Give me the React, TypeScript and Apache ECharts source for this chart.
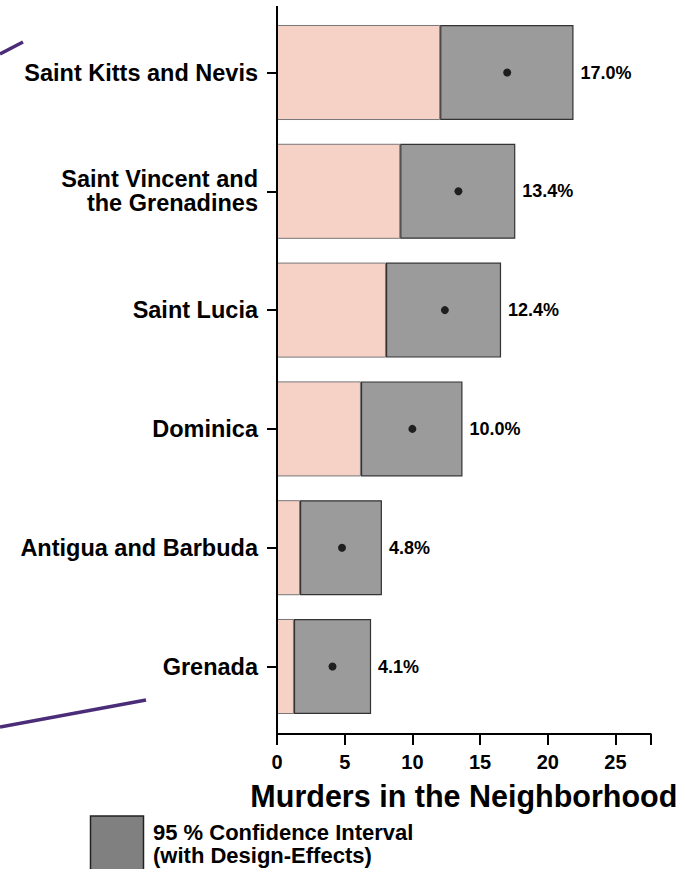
import React, { useEffect, useRef } from "react";
import * as echarts from "echarts";

const countries = [
  "Saint Kitts and Nevis",
  "Saint Vincent and\nthe Grenadines",
  "Saint Lucia",
  "Dominica",
  "Antigua and Barbuda",
  "Grenada",
];
const pointEstimate = [17.0, 13.4, 12.4, 10.0, 4.8, 4.1];
const ciLower = [12.05, 9.1, 8.05, 6.2, 1.7, 1.25];
const ciUpper = [21.9, 17.6, 16.55, 13.7, 7.75, 6.95];
const xTicks = [0, 5, 10, 15, 20, 25];

const FONT = "'Liberation Sans', Arial, Helvetica, sans-serif";

export default function App() {
  const ref = useRef<HTMLDivElement>(null);
  useEffect(() => {
    if (!ref.current) return;
    const chart = echarts.init(ref.current, null, { renderer: "svg" });
    const ciWidth = ciUpper.map((u, i) => u - ciLower[i]);
    const option: any = {
      animation: false,
      textStyle: { fontFamily: FONT },
      grid: { left: 277, right: 42.3, top: 13.1, height: 712.8, containLabel: false },
      xAxis: {
        type: "value",
        min: 0,
        max: 27.6,
        interval: 5,
        offset: 8,
        splitLine: { show: false },
        axisLine: { show: true, lineStyle: { color: "#000", width: 2 } },
        axisTick: { show: true, length: 11, lineStyle: { color: "#000", width: 2 } },
        axisLabel: {
          margin: 18,
          fontSize: 20,
          fontWeight: "bold",
          color: "#000",
          fontFamily: FONT,
          formatter: (v: number) => (xTicks.includes(v) ? String(v) : ""),
        },
        name: "Murders in the Neighborhood",
        nameLocation: "middle",
        nameGap: 47,
        nameTextStyle: { fontSize: 30.5, fontWeight: "bold", color: "#000", fontFamily: FONT },
      },
      yAxis: {
        type: "category",
        inverse: true,
        data: countries,
        axisLine: { show: true, lineStyle: { color: "#000", width: 2 } },
        axisTick: { show: true, alignWithLabel: true, length: 10, lineStyle: { color: "#000", width: 2 } },
        axisLabel: {
          margin: 19,
          fontSize: 23.5,
          lineHeight: 24,
          fontWeight: "bold",
          color: "#000",
          fontFamily: FONT,
          align: "right",
        },
      },
      series: [
        {
          type: "bar",
          stack: "ci",
          barWidth: "80%",
          data: ciLower,
          itemStyle: { color: "#f6d1c5", borderColor: "#777", borderWidth: 1 },
          silent: true,
        },
        {
          type: "bar",
          stack: "ci",
          barWidth: "80%",
          data: ciWidth,
          itemStyle: { color: "#9b9b9b", borderColor: "#333", borderWidth: 1.2 },
          label: {
            show: true,
            position: "right",
            distance: 7,
            fontSize: 18,
            fontWeight: "bold",
            color: "#000",
            fontFamily: FONT,
            formatter: (p: any) => pointEstimate[p.dataIndex].toFixed(1) + "%",
          },
          silent: true,
        },
        {
          type: "scatter",
          data: pointEstimate.map((v, i) => [v, i]),
          symbol: "circle",
          symbolSize: 8,
          itemStyle: { color: "#000" },
          z: 5,
          silent: true,
        },
      ],
      graphic: [
        { type: "line", shape: { x1: 277, y1: 6, x2: 277, y2: 734 }, style: { stroke: "#000", lineWidth: 2 }, z: 10 },
        { type: "line", shape: { x1: 0, y1: 54, x2: 23, y2: 42 }, style: { stroke: "#4b2c78", lineWidth: 3.5 } },
        { type: "line", shape: { x1: 0, y1: 727, x2: 146, y2: 700 }, style: { stroke: "#4b2c78", lineWidth: 3.5 } },
        {
          type: "rect",
          shape: { x: 90.5, y: 816, width: 53, height: 70 },
          style: { fill: "#808080", stroke: "#222", lineWidth: 1.5 },
        },
        {
          type: "text",
          x: 153,
          y: 820.5,
          style: {
            text: "95 % Confidence Interval\n(with Design-Effects)",
            font: `bold 22px ${FONT}`,
            lineHeight: 23,
            fill: "#000",
            verticalAlign: "top",
          },
        },
      ],
    };
    chart.setOption(option);
    return () => chart.dispose();
  }, []);
  return (
    <div
      ref={ref}
      style={{ position: "fixed", left: 0, top: 0, width: 693, height: 869, background: "#fff" }}
    />
  );
}
